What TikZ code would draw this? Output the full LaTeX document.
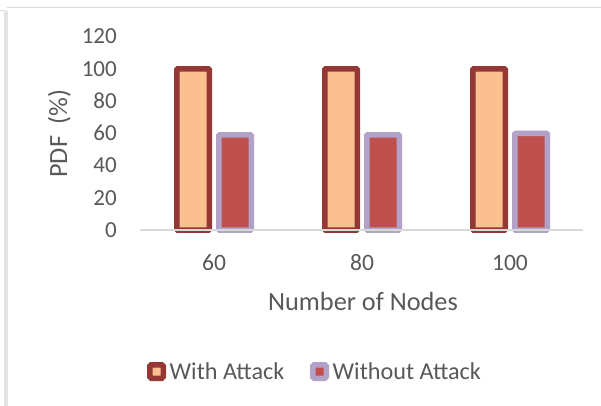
\documentclass[tikz,border=0pt]{standalone}
\usepackage{fontspec}
\setmainfont{Carlito}
\usepackage{xcolor}
\usetikzlibrary{positioning}
\definecolor{txtgray}{HTML}{595959}
\definecolor{gridgray}{HTML}{D9D9D9}
\definecolor{peach}{HTML}{FAC090}
\definecolor{darkred}{HTML}{953735}
\definecolor{brick}{HTML}{C0504D}
\definecolor{lilac}{HTML}{B3A2C7}
\tikzset{
    withbar/.style={draw=darkred, fill=peach, line width=5.5pt, rounded corners=0.8pt},
    nobar/.style={draw=lilac, fill=brick, line width=5.5pt, rounded corners=0.8pt},
    axisline/.style={draw=gridgray, line width=1.5pt},
    ticklabel/.style={anchor=base east, inner sep=0pt, text=txtgray, font=\fontsize{23}{26}\selectfont},
    catlabel/.style={anchor=base, inner sep=0pt, text=txtgray, font=\fontsize{23.5}{26}\selectfont},
    axistitle/.style={anchor=base, inner sep=0pt, text=txtgray, font=\fontsize{26.3}{29}\selectfont},
    legmark/.style={rectangle, minimum size=13.5pt, inner sep=0pt, line width=5.5pt, rounded corners=1.5pt},
    legtext/.style={inner sep=0pt, text=txtgray, font=\fontsize{24.2}{27}\selectfont}
}

\begin{document}
\begin{tikzpicture}[x=1pt, y=-1pt]

\useasboundingbox[fill=white] (0,0) rectangle (601,406);

% chart frame
\fill[gray!22] (4,11) rectangle (8,406);
\draw[gray!30, line width=1pt] (0,11) -- (5,11);
\draw[gray!30, line width=1pt] (7,8) -- (601,8);

% y axis tick labels
\node[ticklabel] (y0) at (117,237.2) {0};
\node[ticklabel] (y20) at (117,205) {20};
\node[ticklabel] (y40) at (117,172.8) {40};
\node[ticklabel] (y60) at (117,140.6) {60};
\node[ticklabel] (y80) at (117,108.4) {80};
\node[ticklabel] (y100) at (117,76.2) {100};
\node[ticklabel] (y120) at (117,44) {120};

% y axis title
\node[axistitle, rotate=90] (ytitle) at (67,133.5) {PDF\ \ (\%)};

% Group 1: 60 nodes
\draw[withbar] (176.75,230) rectangle (209.25,69);
\draw[nobar] (218.75,230) rectangle (251.25,135);

% Group 2: 80 nodes
\draw[withbar] (324.75,230) rectangle (357.25,69);
\draw[nobar] (366.75,230) rectangle (399.25,135);

% Group 3: 100 nodes
\draw[withbar] (472.75,230) rectangle (505.25,69);
\draw[nobar] (514.75,230) rectangle (547.25,133.4);

% category axis
\draw[axisline] (140,230) -- (583,230);
\node[catlabel] (c60) at (214,270) {60};
\node[catlabel] (c80) at (362,270) {80};
\node[catlabel] (c100) at (510,270) {100};

% x axis title
\node[axistitle] (xtitle) at (363,310) {Number of Nodes};

% legend
\node[legmark, draw=darkred, fill=peach] (legA) at (156.5,371.5) {};
\node[legtext, right=3.5pt of legA] (legAtext) {With Attack};
\node[legmark, draw=lilac, fill=brick] (legB) at (319.5,371.5) {};
\node[legtext, right=3.5pt of legB] (legBtext) {Without Attack};

\end{tikzpicture}
\end{document}
